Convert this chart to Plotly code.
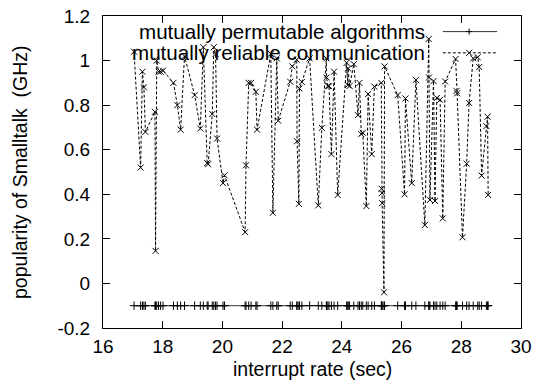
import plotly.graph_objects as go

# interrupt rate (sec) — shared x values of both series
x_vals = [17.04, 17.26, 17.32, 17.37, 17.42, 17.74, 17.76, 17.80, 17.86, 17.93,
          18.01, 18.36, 18.49, 18.60, 18.73, 19.07, 19.26, 19.36, 19.49, 19.52,
          19.66, 19.71, 19.77, 19.82, 20.02, 20.07, 20.76, 20.79, 20.88, 20.96,
          21.12, 21.16, 21.62, 21.69, 21.82, 21.87, 22.27, 22.34, 22.49, 22.50,
          22.56, 22.58, 22.66, 22.92, 23.21, 23.33, 23.48, 23.49, 23.53, 23.57,
          23.65, 23.74, 23.86, 24.16, 24.20, 24.21, 24.26, 24.40, 24.54, 24.59,
          24.65, 24.70, 24.82, 24.88, 25.00, 25.09, 25.32, 25.33, 25.34, 25.35,
          25.41, 25.43, 25.87, 26.10, 26.13, 26.34, 26.48, 26.78, 26.91, 26.92,
          26.95, 27.07, 27.12, 27.18, 27.29, 27.38, 27.46, 27.81, 27.84, 27.86,
          28.04, 28.18, 28.26, 28.40, 28.55, 28.60, 28.68, 28.84, 28.88, 28.90]

# mutually permutable algorithms (constant)
permutable = [-0.1] * len(x_vals)

# mutually reliable communication
reliable = [1.04, 0.52, 0.95, 0.88, 0.68, 0.77, 0.146, 1.00, 0.95, 0.95,
            0.955, 0.90, 0.80, 0.69, 1.02, 0.845, 0.695, 1.06, 0.54, 0.535,
            0.76, 1.06, 1.03, 0.65, 0.45, 0.485, 0.23, 0.53, 0.90, 0.90,
            0.86, 0.69, 1.03, 0.317, 1.01, 0.73, 0.905, 0.974, 1.004, 0.638,
            0.357, 0.875, 0.904, 1.01, 0.35, 0.698, 1.01, 0.924, 0.886, 0.885,
            0.58, 0.95, 0.397, 0.99, 0.89, 0.965, 0.886, 0.984, 0.755, 0.90,
            0.67, 0.676, 0.347, 0.85, 0.58, 0.883, 0.90, 0.425, 0.405, 0.36,
            -0.04, 0.974, 0.845, 0.40, 0.83, 0.45, 0.913, 0.262, 1.097, 0.924,
            0.375, 0.908, 0.37, 0.832, 0.824, 0.292, 0.906, 1.007, 0.864, 0.853,
            0.207, 0.537, 0.81, 1.01, 1.015, 0.971, 0.484, 0.706, 0.748, 0.397]

series_names = ["mutually permutable algorithms", "mutually reliable communication"]
x_ticks = [16, 18, 20, 22, 24, 26, 28, 30]
y_ticks = [-0.2, 0, 0.2, 0.4, 0.6, 0.8, 1, 1.2]
y_tick_text = ["-0.2", "0", "0.2", "0.4", "0.6", "0.8", "1", "1.2"]

FONT = "Liberation Sans, Arial, Helvetica, sans-serif"

fig = go.Figure()
fig.add_trace(go.Scatter(
    x=x_vals, y=permutable, mode="lines+markers", name=series_names[0],
    line=dict(color="#333333", width=1),
    marker=dict(symbol="cross-thin", size=6, line=dict(color="#000000", width=1)),
))
fig.add_trace(go.Scatter(
    x=x_vals, y=reliable, mode="lines+markers", name=series_names[1],
    line=dict(color="#000000", width=1, dash="3px,2px"),
    marker=dict(symbol="x-thin", size=6, line=dict(color="#000000", width=1)),
))

# manual gnuplot-style legend (top right, text right-aligned, sample on right)
leg_y = [0.950, 0.882]
shapes = []
annotations = []
for i, name in enumerate(series_names):
    annotations.append(dict(text=name, xref="paper", yref="paper", x=0.775, y=leg_y[i],
                            xanchor="right", yanchor="middle", showarrow=False,
                            font=dict(family=FONT, size=20.6, color="#000")))
shapes.append(dict(type="line", xref="paper", yref="paper", x0=0.813, x1=0.943,
                   y0=leg_y[0], y1=leg_y[0], line=dict(color="#333333", width=1)))
shapes.append(dict(type="line", xref="paper", yref="paper", x0=0.813, x1=0.943,
                   y0=leg_y[1], y1=leg_y[1], line=dict(color="#000000", width=1, dash="3px,2px")))
# legend marker glyphs
mx = 0.876
shapes.append(dict(type="line", xref="paper", yref="paper", xsizemode="pixel", ysizemode="pixel",
                   xanchor=mx, yanchor=leg_y[0], x0=-3, x1=3, y0=0, y1=0, line=dict(color="#000", width=1)))
shapes.append(dict(type="line", xref="paper", yref="paper", xsizemode="pixel", ysizemode="pixel",
                   xanchor=mx, yanchor=leg_y[0], x0=0, x1=0, y0=-3, y1=3, line=dict(color="#000", width=1)))
shapes.append(dict(type="line", xref="paper", yref="paper", xsizemode="pixel", ysizemode="pixel",
                   xanchor=mx, yanchor=leg_y[1], x0=-3, x1=3, y0=-3, y1=3, line=dict(color="#000", width=1)))
shapes.append(dict(type="line", xref="paper", yref="paper", xsizemode="pixel", ysizemode="pixel",
                   xanchor=mx, yanchor=leg_y[1], x0=-3, x1=3, y0=3, y1=-3, line=dict(color="#000", width=1)))

# axis titles
annotations.append(dict(text="interrupt rate (sec)", xref="paper", yref="paper", x=0.5, y=0,
                        xanchor="center", yanchor="middle", yshift=-41, showarrow=False,
                        font=dict(family=FONT, size=19.5, color="#000")))
annotations.append(dict(text="popularity of Smalltalk\u00a0\u00a0(GHz)", xref="paper", yref="paper",
                        x=0, y=0.5, xanchor="center", yanchor="middle", xshift=-83, textangle=-90,
                        showarrow=False, font=dict(family=FONT, size=19.5, color="#000")))

axis_common = dict(showgrid=False, zeroline=False, showline=True, linecolor="#000", linewidth=1,
                   mirror="ticks", ticks="inside", ticklen=7, tickcolor="#000", tickwidth=1,
                   automargin=False,
                   tickfont=dict(family=FONT, size=19, color="#000"))

fig.update_layout(
    width=536, height=392,
    margin=dict(l=103, r=15, t=16, b=64),
    paper_bgcolor="white", plot_bgcolor="white",
    showlegend=False,
    shapes=shapes, annotations=annotations,
    xaxis=dict(range=[16, 30], tickvals=x_ticks, ticklabelstandoff=1, **axis_common),
    yaxis=dict(range=[-0.2, 1.2], tickvals=y_ticks, ticktext=y_tick_text, ticklabelstandoff=8, **axis_common),
)

fig.write_html("out.html")
